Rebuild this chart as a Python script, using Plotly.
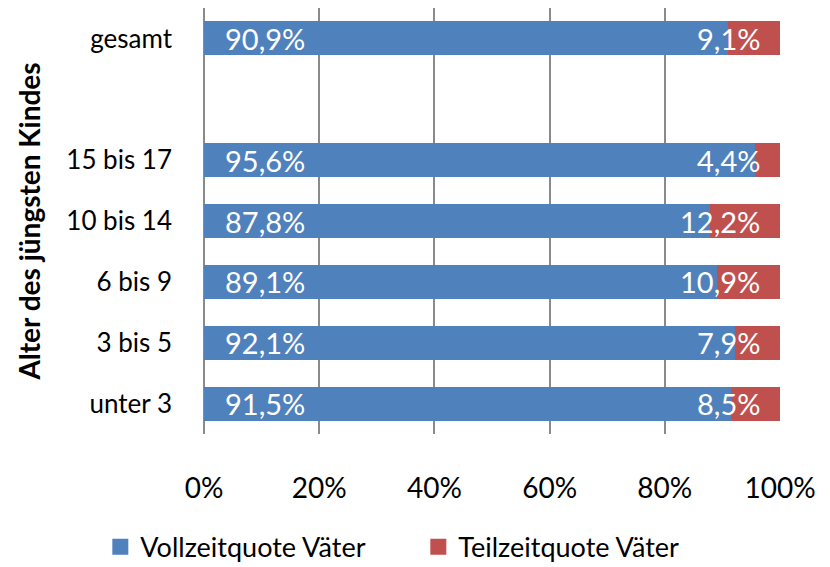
import plotly.graph_objects as go

# Alter des jüngsten Kindes, von unten nach oben (leerer Platz vor "gesamt")
categories = ["unter 3", "3 bis 5", "6 bis 9", "10 bis 14", "15 bis 17", " ", "gesamt"]
age_groups = ["unter 3", "3 bis 5", "6 bis 9", "10 bis 14", "15 bis 17", "gesamt"]
vollzeit = [91.5, 92.1, 89.1, 87.8, 95.6, 90.9]
teilzeit = [8.5, 7.9, 10.9, 12.2, 4.4, 9.1]
x_ticks = [0, 20, 40, 60, 80, 100]
x_ticktext = ["0%", "20%", "40%", "60%", "80%", "100%"]

BLUE = "#4F81BD"
RED = "#C0504D"
GRID = "#8A8A8A"
FONT = "Lato"


def fmt(v):
    return f"{v:.1f}".replace(".", ",") + "%"


fig = go.Figure()

fig.add_trace(go.Bar(
    y=age_groups, x=vollzeit, orientation="h",
    marker=dict(color=BLUE, line=dict(width=0)),
    showlegend=False, hoverinfo="skip",
))
fig.add_trace(go.Bar(
    y=age_groups, x=teilzeit, orientation="h",
    marker=dict(color=RED, line=dict(width=0)),
    showlegend=False, hoverinfo="skip",
))

# legend entries with bigger square symbols
fig.add_trace(go.Scatter(
    x=[None], y=[None], mode="markers", name="Vollzeitquote Väter",
    marker=dict(symbol="square", size=16, color=BLUE),
))
fig.add_trace(go.Scatter(
    x=[None], y=[None], mode="markers", name="Teilzeitquote Väter",
    marker=dict(symbol="square", size=16, color=RED),
))

# data labels: blue at bar start, red right-aligned at bar end
for g, v, t in zip(age_groups, vollzeit, teilzeit):
    fig.add_annotation(x=0, y=g, text=fmt(v), showarrow=False,
                       xanchor="left", xshift=19,
                       font=dict(family=FONT, size=29, color="white"))
    fig.add_annotation(x=v + t, y=g, text=fmt(t), showarrow=False,
                       xanchor="right", xshift=-18,
                       font=dict(family=FONT, size=29, color="white"))

fig.update_layout(
    width=830, height=567,
    margin=dict(l=196, r=58, t=0, b=141, autoexpand=False),
    barmode="stack", bargap=0.44,
    plot_bgcolor="white", paper_bgcolor="white",
    font=dict(family=FONT, size=26, color="black"),
    legend=dict(
        orientation="h", x=-0.18, xanchor="left", y=-0.266, yanchor="middle",
        entrywidth=273, traceorder="normal",
        font=dict(family=FONT, size=27, color="black"),
        itemsizing="trace",
    ),
)

fig.update_xaxes(
    range=[0, 100], tickvals=x_ticks, ticktext=x_ticktext,
    tickfont=dict(family=FONT, size=28, color="black"),
    showgrid=True, gridcolor=GRID, gridwidth=2,
    zeroline=True, zerolinecolor=GRID, zerolinewidth=2,
    showline=False, ticks="", automargin=False,
    ticklabelstandoff=35, fixedrange=True,
)
fig.update_yaxes(
    type="category", categoryorder="array", categoryarray=categories,
    range=[-0.5, 6.5], showgrid=False, zeroline=False, showline=False,
    ticks="", ticklabelstandoff=31, automargin=False,
    title=dict(text="<b>Alter des jüngsten Kindes</b>", standoff=17,
               font=dict(family=FONT, size=28, color="black")),
)

fig.write_html("out.html")
